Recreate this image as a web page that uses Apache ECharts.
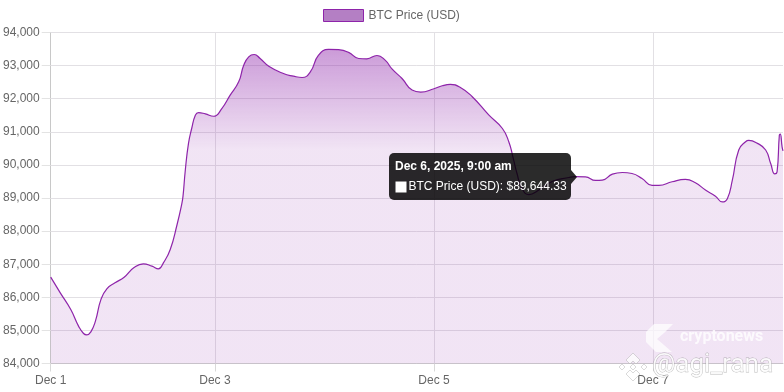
<!DOCTYPE html>
<html>
<head>
<meta charset="utf-8">
<style>html,body{margin:0;padding:0;background:#fff}#c{width:784px;height:392px}</style>
<script src="https://cdn.jsdelivr.net/npm/echarts@6/dist/echarts.min.js"></script>
</head>
<body>
<div id="c"></div>
<script>
// hours since Dec 1 00:00
const hours = [12,14.1,16.4,18.1,19.2,19.9,20.8,21.8,23,24.3,26.1,28.1,30.2,32.3,34.2,35.6,36.7,38.2,39.7,40.7,41,41.5,42.2,42.9,43.7,44.4,45.9,47.7,49.5,51.3,53.2,54.3,55.4,56.6,57.9,59.8,63,65.2,67.1,68.9,70.7,72.9,75.1,77.3,79.5,81.3,83.5,85.3,86.8,89,91.2,93.1,96,97.8,99.6,101.8,104.4,108,111,112.4,113.3,114.2,115.3,116.8,119,121.9,125.6,127,129.2,131.4,132.9,135.1,137.3,139.4,141.6,143.8,145.3,148.2,151.1,153.3,155.5,157.7,159.2,160.3,161.4,162.8,164.3,165,166.9,168.7,169.8,170.7,171.2,171.7,171.9,172.3,172.5];
const prices = [86608,86135,85630,85130,84906,84866,84957,85280,85930,86256,86437,86608,86890,87011,86940,86860,87041,87444,88200,88800,89055,89840,90650,91100,91500,91580,91540,91470,91700,92100,92510,93010,93265,93335,93215,92980,92760,92680,92640,92810,93315,93490,93480,93400,93215,93205,93305,93165,92900,92610,92260,92200,92300,92390,92430,92340,92060,91510,91100,90700,90245,89740,89290,89100,89240,89500,89620,89644,89640,89530,89540,89720,89770,89740,89590,89380,89380,89490,89560,89460,89240,89055,88880,88980,89540,90450,90700,90740,90650,90450,90040,89730,89790,90900,90930,90545,90425];
const dayTicks = [12,48,96,144];
const dayLabels = ['Dec 1','Dec 3','Dec 5','Dec 7'];
const seriesName = 'BTC Price (USD)';
const tipTitle = 'Dec 6, 2025, 9:00 am';
const tipBody = 'BTC Price (USD): $89,644.33';
const PURPLE = '#8e24aa';
const FONT = '"Liberation Sans", Arial, sans-serif';

const chart = echarts.init(document.getElementById('c'), null, {renderer:'canvas'});
const wmFill = 'rgba(255,255,255,0.72)';
const wmStroke = 'rgba(150,150,150,0.5)';
chart.setOption({
  animation:false,
  textStyle:{fontFamily:FONT},
  legend:{
    top:9,left:323,itemWidth:40,itemHeight:12,itemGap:6,padding:0,
    data:[{name:seriesName,icon:'rect'}],
    itemStyle:{color:'rgb(180,127,196)',borderColor:PURPLE,borderWidth:1},
    lineStyle:{opacity:0},
    textStyle:{color:'#666',fontSize:12,fontFamily:FONT,padding:[0,0,0,0]}
  },
  grid:{left:50.5,right:1,top:32.5,bottom:28.5},
  xAxis:{
    type:'value',min:12,max:172.5,
    axisLine:{show:true,lineStyle:{color:'#ccc'}},
    axisTick:{show:true,length:8,customValues:dayTicks,lineStyle:{color:'#d9d9d9'}},
    axisLabel:{customValues:dayTicks,color:'#666',fontSize:12,margin:11,fontFamily:FONT,
      hideOverlap:false,
      formatter:v=>dayLabels[dayTicks.indexOf(v)]||''},
    splitLine:{show:true,lineStyle:{color:'#e2e0e4',width:1}}
  },
  yAxis:{
    type:'value',min:84000,max:94000,interval:1000,
    axisLine:{show:true,lineStyle:{color:'#c8c8c8'}},
    axisTick:{show:true,length:9,lineStyle:{color:'#e3e3e3'}},
    axisLabel:{color:'#666',fontSize:12,margin:11,fontFamily:FONT,
      formatter:v=>v.toLocaleString('en-US')},
    splitLine:{show:true,lineStyle:{color:'#e2e0e4',width:1}}
  },
  series:[{
    name:seriesName,type:'line',smooth:0.5,showSymbol:false,symbol:'none',
    data:hours.map((h,i)=>[h,prices[i]]),
    lineStyle:{color:PURPLE,width:1.2},
    itemStyle:{color:'rgb(180,127,196)'},
    areaStyle:{origin:'start',opacity:1,color:{type:'linear',global:true,x:0,y:0,x2:0,y2:150,colorStops:[
      {offset:0,color:'rgba(142,36,170,0.62)'},
      {offset:1,color:'rgba(142,36,170,0.12)'}]}}
  }],
  graphic:[
    // tooltip
    {type:'polygon',z:100,shape:{points:[[571,170],[577,177],[571,184]]},style:{fill:'rgba(0,0,0,0.83)'}},
    {type:'rect',z:100,shape:{x:389,y:153,width:182,height:47,r:5},style:{fill:'rgba(0,0,0,0.83)'}},
    {type:'text',z:101,x:395,y:161,style:{text:tipTitle,fill:'#fff',font:'bold 12px '+FONT}},
    {type:'rect',z:101,shape:{x:395.5,y:181.5,width:11,height:11},style:{fill:'#fff'}},
    {type:'text',z:101,x:408.5,y:181,style:{text:tipBody,fill:'#fff',font:'12px '+FONT}},
    // watermarks
    {type:'polygon',z:90,shape:{points:[[654,324],[673,324],[664,333],[657,339],[664,345],[672,352],[656,352],[646,342],[646,332]]},style:{fill:wmFill}},
    {type:'text',z:90,x:680,y:329,style:{text:'cryptonews',fill:'rgba(255,255,255,0.8)',font:'bold 16px Roboto, '+FONT}},
    {type:'polygon',z:90,shape:{points:[[633,353],[640,360],[636,364],[633,361],[630,364],[626,360]]},style:{fill:wmFill,stroke:wmStroke,lineWidth:0.7}},
    {type:'polygon',z:90,shape:{points:[[633,381],[640,374],[636,370],[633,373],[630,370],[626,374]]},style:{fill:wmFill,stroke:wmStroke,lineWidth:0.7}},
    {type:'polygon',z:90,shape:{points:[[622,364],[625,367],[622,370],[619,367]]},style:{fill:wmFill,stroke:wmStroke,lineWidth:0.7}},
    {type:'polygon',z:90,shape:{points:[[644,364],[647,367],[644,370],[641,367]]},style:{fill:wmFill,stroke:wmStroke,lineWidth:0.7}},
    {type:'polygon',z:90,shape:{points:[[633,364],[636,367],[633,370],[630,367]]},style:{fill:wmFill,stroke:wmStroke,lineWidth:0.7}},
    {type:'text',z:90,x:652,y:352,style:{text:'@agi_rana',fill:'rgba(255,255,255,0.85)',stroke:'rgba(130,130,130,0.55)',lineWidth:0.8,font:'26px Roboto, '+FONT}}
  ]
});
</script>
</body>
</html>
